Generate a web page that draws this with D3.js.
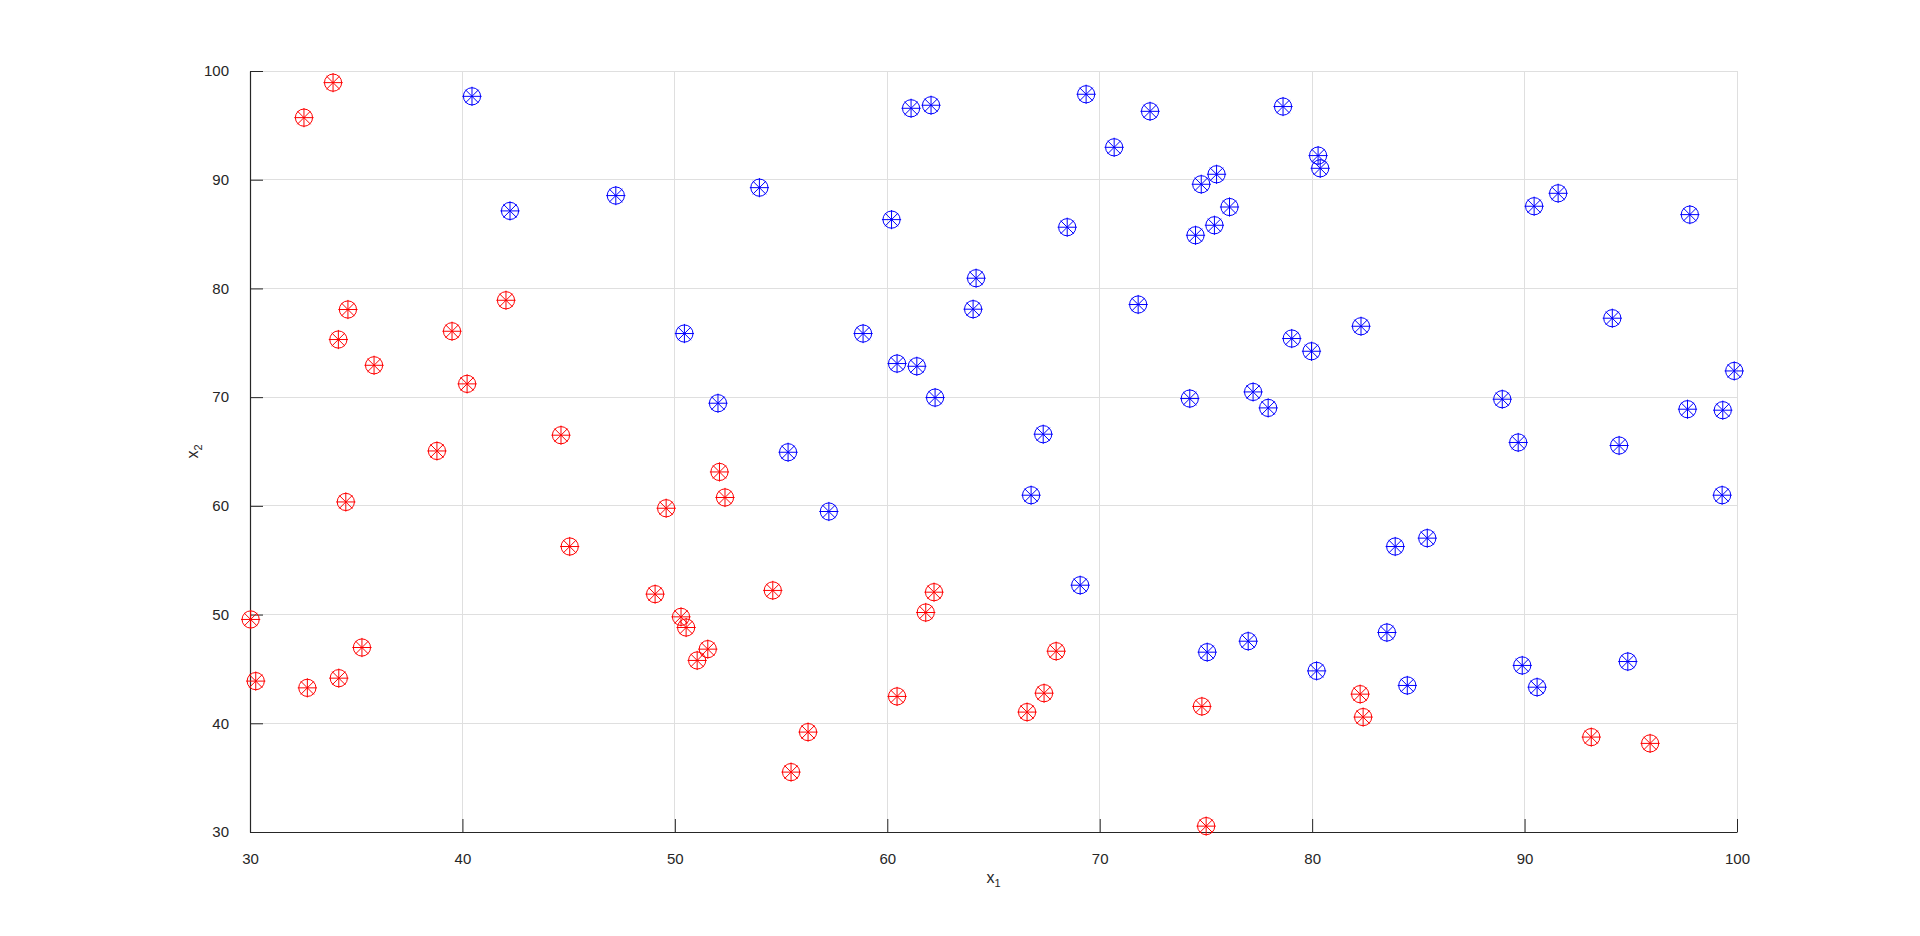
<!DOCTYPE html>
<html>
<head>
<meta charset="utf-8">
<script src="https://cdn.jsdelivr.net/npm/d3@7"></script>
<style>
    html, body { margin: 0; padding: 0; background: #ffffff; }
    svg { display: block; font-family: "Liberation Sans", Arial, Helvetica, sans-serif; }
</style>
</head>
<body>
<div id="chart"></div>
<script>

// class 0 (red) points
const redX1 = [32.54, 33.91, 34.61, 42.05, 34.16, 39.51, 35.84, 40.22, 44.64, 38.80,
    34.51, 45.05, 30.03, 35.27, 30.27, 34.18, 32.70, 52.10, 52.36, 49.59,
    49.07, 54.61, 62.20, 61.81, 50.29, 50.53, 51.55, 51.05, 60.46, 56.27,
    55.47, 67.95, 67.38, 66.58, 74.81, 75.01, 82.26, 82.40, 93.14, 95.91];
const redX2 = [95.71, 98.93, 78.06, 78.91, 75.30, 76.06, 72.93, 71.22, 66.50, 65.05,
    60.36, 56.26, 49.55, 46.97, 43.88, 44.15, 43.26, 63.12, 60.77, 59.78,
    51.88, 52.22, 52.06, 50.19, 49.79, 48.81, 46.82, 45.78, 42.47, 39.19,
    35.51, 46.63, 42.77, 41.03, 41.55, 30.54, 42.68, 40.57, 38.73, 38.15];

// class 1 (blue) points
const blueX1 = [40.45, 42.24, 47.22, 61.12, 62.06, 53.98, 60.20, 64.18, 64.04, 50.45,
    58.86, 60.46, 61.39, 62.25, 52.03, 55.33, 57.25, 69.36, 72.37, 78.63,
    70.68, 80.28, 80.38, 75.50, 74.78, 76.11, 75.40, 74.51, 68.47, 71.81,
    82.30, 79.04, 79.97, 74.24, 77.22, 77.93, 67.34, 90.45, 91.58, 97.78,
    94.13, 99.87, 88.95, 97.67, 99.33, 89.70, 94.45, 99.30, 83.91, 85.42,
    83.52, 84.48, 89.89, 90.59, 94.86, 66.77, 69.08, 75.06, 76.99, 80.21];
const blueX2 = [97.67, 87.13, 88.54, 96.57, 96.85, 89.27, 86.33, 80.94, 78.09, 75.85,
    75.85, 73.09, 72.84, 69.96, 69.44, 64.93, 59.48, 97.86, 96.29, 96.73,
    92.98, 92.22, 91.05, 90.50, 89.58, 87.49, 85.81, 84.89, 85.63, 78.52,
    76.52, 75.39, 74.22, 69.87, 70.48, 69.01, 66.59, 87.56, 88.75, 86.79,
    77.26, 72.41, 69.81, 68.89, 68.80, 65.83, 65.55, 60.98, 56.26, 57.03,
    48.35, 43.48, 45.32, 43.32, 45.68, 60.98, 52.70, 46.54, 47.55, 44.82];

const xTicks = [30, 40, 50, 60, 70, 80, 90, 100];
const yTicks = [30, 40, 50, 60, 70, 80, 90, 100];

class ScatterPlot {

    constructor(width, height){
        this.width = width;
        this.height = height;
        this.marginTop = 71;
        this.marginRight = 183;
        this.marginLeft = 250;
        this.marginBottom = 104;
        this.tickLen = 13;
        this.svgElem = null;
        this.xScale = null;
        this.yScale = null;
    }

    createChart() {
        const innerLeft = this.marginLeft;
        const innerRight = this.width - this.marginRight;
        const innerTop = this.marginTop;
        const innerBottom = this.height - this.marginBottom;

        this.xScale = d3.scaleLinear()
            .domain([30, 100])
            .range([innerLeft, innerRight]);

        this.yScale = d3.scaleLinear()
            .domain([30, 100])
            .range([innerBottom, innerTop]);

        this.svgElem = d3.create("svg")
            .attr("width", this.width)
            .attr("height", this.height);

        // grid
        const grid = this.svgElem.append("g")
            .attr("stroke", "#dfdfdf")
            .attr("stroke-width", 1)
            .attr("shape-rendering", "crispEdges");
        grid.selectAll(".gx")
            .data(xTicks.filter((d) => d !== 30))
            .join("line")
            .attr("x1", (d) => this.xScale(d))
            .attr("x2", (d) => this.xScale(d))
            .attr("y1", innerTop)
            .attr("y2", innerBottom);
        grid.selectAll(".gy")
            .data(yTicks.filter((d) => d !== 30))
            .join("line")
            .attr("x1", innerLeft)
            .attr("x2", innerRight)
            .attr("y1", (d) => this.yScale(d))
            .attr("y2", (d) => this.yScale(d));

        // x axis
        this.svgElem.append("g")
            .attr("transform", `translate(0,${innerBottom})`)
            .call(d3.axisBottom(this.xScale)
                .tickValues(xTicks)
                .tickSize(-this.tickLen)
                .tickPadding(this.tickLen + 8)
                .tickSizeOuter(0))
            .call((g) => this._styleAxis(g));

        // y axis
        this.svgElem.append("g")
            .attr("transform", `translate(${innerLeft},0)`)
            .call(d3.axisLeft(this.yScale)
                .tickValues(yTicks)
                .tickSize(-this.tickLen)
                .tickPadding(this.tickLen + 8)
                .tickSizeOuter(0))
            .call((g) => this._styleAxis(g));

        // axis labels
        this.svgElem.append("text")
            .attr("x", (innerLeft + innerRight) / 2)
            .attr("y", innerBottom + 51)
            .attr("text-anchor", "middle")
            .attr("font-size", 16)
            .attr("fill", "#262626")
            .call((t) => {
                t.append("tspan").text("x");
                t.append("tspan").attr("font-size", 11).attr("dy", 4).text("1");
            });

        this.svgElem.append("text")
            .attr("transform", `translate(${innerLeft - 52},${(innerTop + innerBottom) / 2}) rotate(-90)`)
            .attr("text-anchor", "middle")
            .attr("font-size", 16)
            .attr("fill", "#262626")
            .call((t) => {
                t.append("tspan").text("x");
                t.append("tspan").attr("font-size", 11).attr("dy", 4).text("2");
            });

        this._appendPoints(d3.zip(redX1, redX2), "#ff0000");
        this._appendPoints(d3.zip(blueX1, blueX2), "#0000ff");

        return this.svgElem.node();
    }

    _styleAxis(g){
        g.select(".domain").attr("stroke", "#262626").attr("stroke-width", 1.2);
        g.selectAll(".tick line").attr("stroke", "#262626").attr("stroke-width", 1);
        g.selectAll(".tick text")
            .attr("font-size", 15)
            .attr("fill", "#262626")
            .attr("font-family", "Liberation Sans, Arial, sans-serif");
    }

    // circle + star markers
    _appendPoints(points, color){
        const r = 8.6, arm = 9.6, diag = 6.6;
        const marks = this.svgElem.append("g")
            .attr("fill", "none")
            .attr("stroke", color)
            .attr("stroke-width", 1)
            .selectAll("g")
            .data(points)
            .join("g")
            .attr("transform", (d) => `translate(${this.xScale(d[0])},${this.yScale(d[1])})`);
        marks.append("circle").attr("r", r);
        marks.append("path")
            .attr("d", `M${-arm},0H${arm}M0,${-arm}V${arm}M${-diag},${-diag}L${diag},${diag}M${-diag},${diag}L${diag},${-diag}`);
    }
}

const chart = new ScatterPlot(1920, 936);
document.getElementById("chart").appendChild(chart.createChart());
</script>
</body>
</html>
